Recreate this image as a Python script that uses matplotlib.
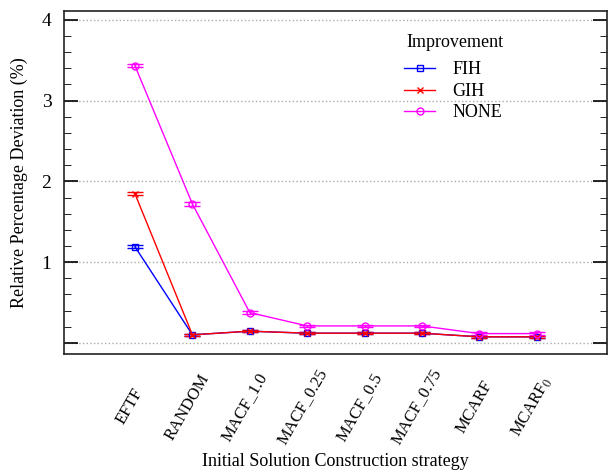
import numpy as np
import matplotlib
matplotlib.use('Agg')
import matplotlib.pyplot as plt
import matplotlib.transforms as mtransforms
from matplotlib.lines import Line2D
from matplotlib.ticker import MultipleLocator

# Relative percentage deviation per initial solution construction strategy
strategies = ['EFTF', 'RANDOM', 'MACF_1.0', 'MACF_0.25', 'MACF_0.5', 'MACF_0.75',
              'MCARF', r'MCARF$_0$']
fih = [1.19, 0.10, 0.145, 0.12, 0.12, 0.12, 0.075, 0.075]
gih = [1.845, 0.10, 0.145, 0.12, 0.12, 0.12, 0.075, 0.075]
none = [3.43, 1.72, 0.375, 0.21, 0.21, 0.21, 0.115, 0.115]
err_fih = [0.02, 0.015, 0.015, 0.015, 0.015, 0.015, 0.015, 0.015]
err_gih = [0.02, 0.015, 0.015, 0.015, 0.015, 0.015, 0.015, 0.015]
err_none = [0.02, 0.02, 0.015, 0.015, 0.015, 0.015, 0.015, 0.015]

plt.rcParams['font.family'] = ['Liberation Serif', 'DejaVu Serif']
plt.rcParams['mathtext.fontset'] = 'stix'

fig = plt.figure(figsize=(6.08, 4.75), dpi=100)
ax = fig.add_axes([0.105, 0.255, 0.893, 0.722])

x = np.arange(len(strategies))
series = [('FIH', fih, err_fih, 'blue', 's'),
          ('GIH', gih, err_gih, 'red', 'x'),
          ('NONE', none, err_none, 'magenta', 'o')]
handles = []
for name, vals, err, col, mk in series:
    ax.errorbar(x, vals, yerr=err, color=col, marker=mk, markersize=5,
                markerfacecolor='none', markeredgecolor=col, lw=1,
                capsize=6, elinewidth=1, capthick=1)
    handles.append(Line2D([], [], color=col, marker=mk, markersize=5,
                          markerfacecolor='none', lw=1, label=name))

ax.set_xlim(-1.24, 8.22)
ax.set_ylim(-0.136, 4.11)
ax.set_yticks([0, 1, 2, 3, 4])
ax.set_yticklabels(['', '1', '2', '3', '4'])
ax.yaxis.set_minor_locator(MultipleLocator(0.2))
ax.tick_params(axis='y', which='major', direction='in', length=10, width=1.2,
               right=True, labelsize=14, pad=9)
ax.tick_params(axis='y', which='minor', direction='in', length=5, right=True)
ax.set_xticks(x)
ax.set_xticklabels(strategies, rotation=60, ha='center', va='center',
                   rotation_mode='default', fontsize=12)
ax.tick_params(axis='x', length=0, pad=38)
shift = mtransforms.ScaledTranslation(-5 / 100, 0, fig.dpi_scale_trans)
for lab in ax.get_xticklabels():
    lab.set_transform(lab.get_transform() + shift)
ax.grid(axis='y', which='major', linestyle=':', color='#aaaaaa', lw=1)
for s in ax.spines.values():
    s.set_color('#222222')
    s.set_linewidth(1.2)

ax.set_ylabel('Relative Percentage Deviation (%)', fontsize=13, labelpad=10)
ax.set_xlabel('Initial Solution Construction strategy', fontsize=13, labelpad=4)

# legend title drawn separately to get the wider gap above the entries
ax.text(0.72, 0.9067, 'Improvement', transform=ax.transAxes, fontsize=13,
        ha='center', va='center')
ax.legend(handles=handles, frameon=False, fontsize=13,
          loc='upper left', bbox_to_anchor=(0.597, 0.9004),
          handlelength=1.7, handletextpad=0.95, labelspacing=0.25)

fig.savefig('out.png', dpi=100)
